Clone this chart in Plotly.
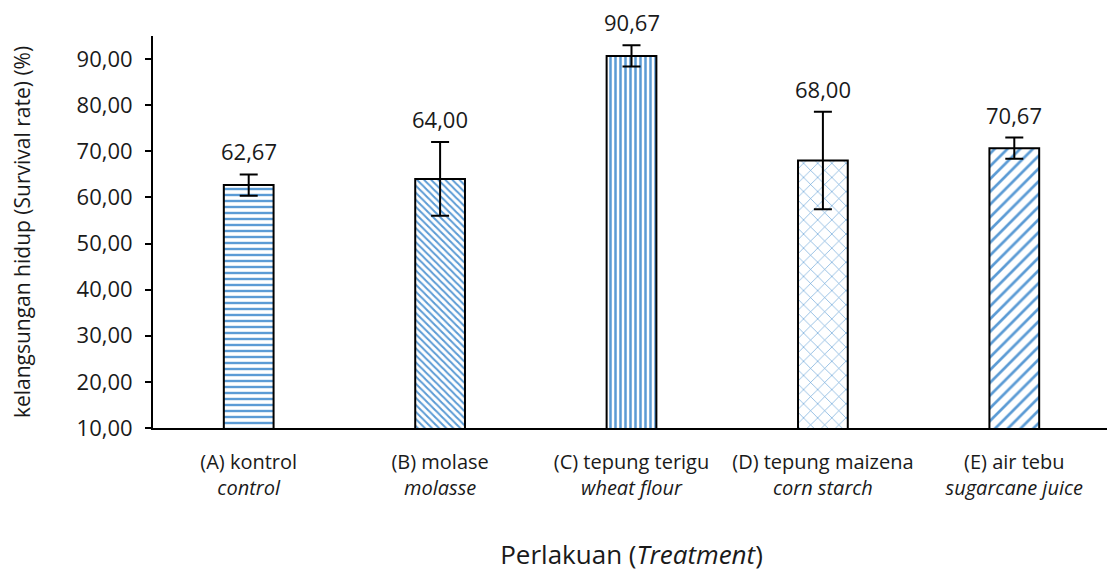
import plotly.graph_objects as go

categories = ["(A) kontrol<br><i>control</i>", "(B) molase<br><i>molasse</i>",
              "(C) tepung terigu<br><i>wheat flour</i>", "(D) tepung maizena<br><i>corn starch</i>",
              "(E) air tebu<br><i>sugarcane juice</i>"]
values = [62.67, 64.00, 90.67, 68.00, 70.67]
errors = [2.31, 8.00, 2.31, 10.58, 2.31]
labels = ["62,67", "64,00", "90,67", "68,00", "70,67"]
yticks = [10, 20, 30, 40, 50, 60, 70, 80, 90]

blue = "#5B9BD5"
patterns = [
    dict(shape="-", size=6, solidity=0.4),
    dict(shape="\\", size=5, solidity=0.4),
    dict(shape="|", size=5, solidity=0.5),
    dict(shape="x", size=10, solidity=0.12),
    dict(shape="/", size=9, solidity=0.3),
]

FONT = "Open Sans, Calibri, sans-serif"
fig = go.Figure()
for i, (c, v, e, p) in enumerate(zip(categories, values, errors, patterns)):
    fig.add_trace(go.Bar(
        x=[c], y=[v], width=0.26,
        marker=dict(color="white", line=dict(color="black", width=2),
                    pattern=dict(fgcolor=blue, bgcolor="white", fillmode="replace", **p)),
        error_y=dict(type="data", array=[e], color="black", thickness=2, width=9),
        showlegend=False, hoverinfo="skip",
    ))

for c, v, e, t in zip(categories, values, errors, labels):
    fig.add_annotation(x=c, y=v + e, text=t, showarrow=False, yanchor="bottom",
                       yshift=6, font=dict(size=22, color="#1a1a1a", family=FONT))

fig.update_layout(
    width=1115, height=572,
    margin=dict(l=145, r=13, t=28, b=152, autoexpand=False),
    plot_bgcolor="white", paper_bgcolor="white",
    separators=",.",
    font=dict(family=FONT, size=20, color="#1a1a1a"),
    barmode="overlay",
    xaxis=dict(showline=True, linecolor="black", linewidth=2, ticks="", automargin=False,
               tickfont=dict(size=20), ticklabelstandoff=15,
               title=dict(text="Perlakuan (<i>Treatment</i>)", font=dict(size=26), standoff=46)),
    yaxis=dict(range=[10, 95], tickvals=yticks, tickformat=".2f", showgrid=False, automargin=False,
               showline=True, linecolor="black", linewidth=2, ticks="outside",
               ticklen=6, tickwidth=1.5, tickcolor="black", zeroline=False, ticklabelstandoff=8,
               tickfont=dict(size=22),
               title=dict(text="kelangsungan hidup (Survival rate) (%)", font=dict(size=21), standoff=40)),
)

fig.write_html("out.html")
